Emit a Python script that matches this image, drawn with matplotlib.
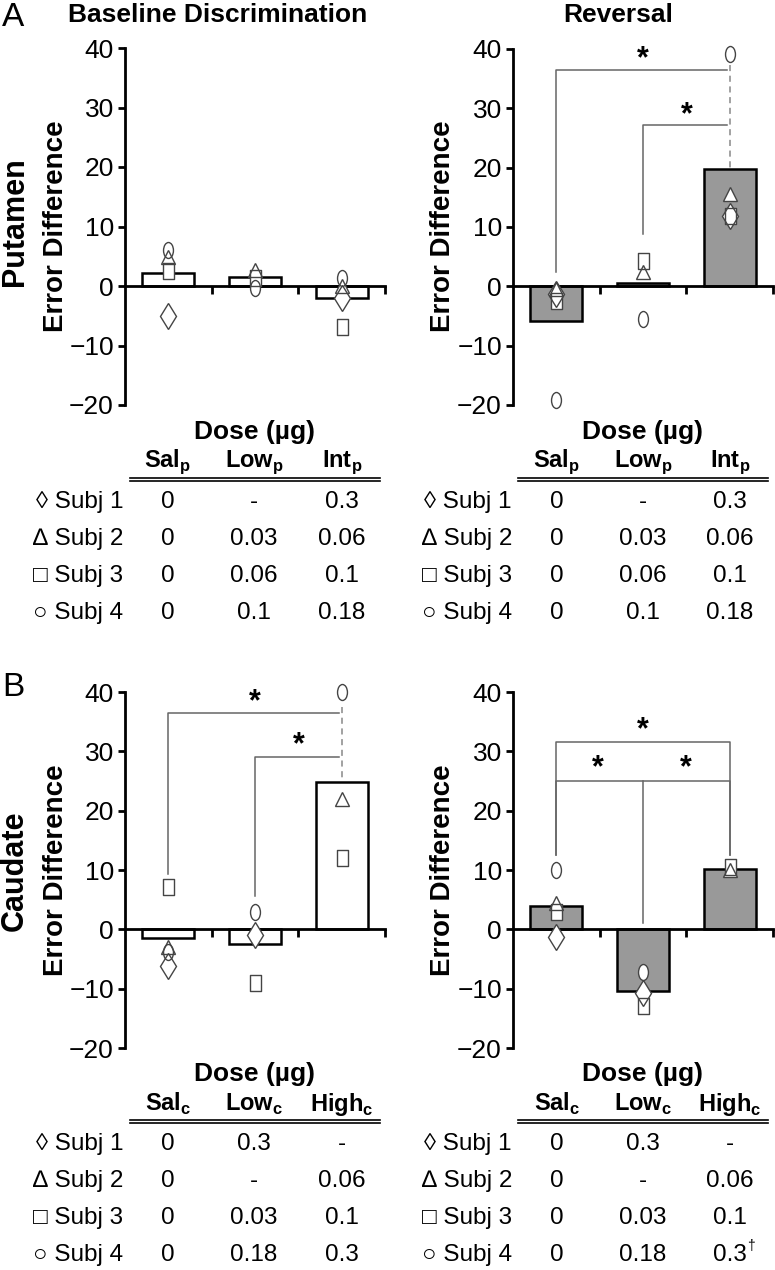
import numpy as np
import matplotlib
matplotlib.use("Agg")
import matplotlib.pyplot as plt
from matplotlib.path import Path
from matplotlib.transforms import Affine2D

plt.rcParams["font.family"] = ["Liberation Sans", "DejaVu Sans"]
plt.rcParams["mathtext.fontset"] = "custom"
plt.rcParams["mathtext.rm"] = "Liberation Sans"
plt.rcParams["mathtext.bf"] = "Liberation Sans:bold"

W, H = 775, 1270

# bar heights (group means), order Sal / Low / Int(High)
put_base_bars = [2.2, 1.5, -2.0]
put_rev_bars = [-5.9, 0.6, 19.8]
cau_base_bars = [-1.4, -2.4, 24.8]
cau_rev_bars = [4.0, -10.4, 10.1]

# individual subjects: rows = Subj 1 (diamond), 2 (triangle), 3 (square), 4 (circle)
nan = np.nan
put_base_pts = [[-5.0, nan, -2.0],
                [4.8, 2.7, 0.0],
                [2.5, 1.3, -6.9],
                [6.0, -0.3, 1.3]]
put_rev_pts = [[-1.3, nan, 11.8],
               [-0.5, 2.5, 15.5],
               [-2.5, 4.2, 11.8],
               [-19.2, -5.5, 39.1]]
cau_base_pts = [[-6.1, -1.0, nan],
                [-3.0, nan, 22.0],
                [7.1, -9.1, 12.1],
                [-3.9, 2.9, 40.0]]
cau_rev_pts = [[-1.3, -10.8, nan],
               [4.4, nan, 10.0],
               [2.9, -13.0, 10.5],
               [10.0, -7.2, nan]]

subj_labels = ["\u25ca Subj 1", "\u2206 Subj 2", "\u25a1 Subj 3", "\u25cb Subj 4"]
put_doses = ["Sal", "Low", "Int"]
cau_doses = ["Sal", "Low", "High"]
put_table = [["0", "-", "0.3"],
             ["0", "0.03", "0.06"],
             ["0", "0.06", "0.1"],
             ["0", "0.1", "0.18"]]
cau_table = [["0", "0.3", "-"],
             ["0", "-", "0.06"],
             ["0", "0.03", "0.1"],
             ["0", "0.18", "0.3"]]

# marker shapes
ellipse = Affine2D().scale(0.62, 1.0).transform_path(Path.unit_circle())
rect = Path([(-0.36, -0.5), (0.36, -0.5), (0.36, 0.5), (-0.36, 0.5), (-0.36, -0.5)],
            [Path.MOVETO, Path.LINETO, Path.LINETO, Path.LINETO, Path.CLOSEPOLY])
markers = [("d", 13), ("^", 10.5), (rect, 11), (ellipse, 11.5)]

GRAY = "#999999"
LINE = "#666666"

fig = plt.figure(figsize=(W / 100, H / 100), dpi=100)


def fx(x):
    return x / W


def fy(y):
    return 1 - y / H


def make_axes(left, top, right, bottom):
    return fig.add_axes([left / W, 1 - bottom / H, (right - left) / W, (bottom - top) / H])


def draw_panel(ax, bars, pts, fill):
    x = np.arange(3)
    ax.bar(x, bars, width=0.6, color=fill, edgecolor="black", linewidth=1.8, zorder=2)
    # white fill first, then all outlines so overlaps stay visible
    for vals, (m, ms) in zip(pts, markers):
        ax.plot(x, vals, ls="none", marker=m, ms=ms, mfc="white", mec="none",
                zorder=3, clip_on=False)
    for vals, (m, ms) in zip(pts, markers):
        ax.plot(x, vals, ls="none", marker=m, ms=ms, mfc="none", mec="#444444", mew=1.0,
                zorder=4, clip_on=False)
    ax.set_xlim(-0.5, 2.5)
    ax.set_ylim(-20, 40)
    ax.set_yticks([-20, -10, 0, 10, 20, 30, 40])
    ax.set_yticklabels(["\u221220", "\u221210", "0", "10", "20", "30", "40"])
    ax.set_xticks([0.5, 1.5, 2.5])
    ax.set_xticklabels([])
    for s in ["top", "right"]:
        ax.spines[s].set_visible(False)
    ax.spines["bottom"].set_position(("data", 0))
    ax.spines["left"].set_linewidth(2.0)
    ax.spines["bottom"].set_linewidth(2.0)
    ax.tick_params(axis="y", direction="out", length=5, width=2.0, labelsize=19, pad=3)
    ax.tick_params(axis="x", direction="out", length=6, width=2.0)
    ax.patch.set_visible(False)


def line(ax, xs, ys, **kw):
    ax.plot(xs, ys, color=LINE, lw=1.1, clip_on=False, zorder=1, **kw)


def star(ax, x, y):
    ax.text(x, y, "*", fontsize=22, fontweight="bold", ha="center", va="center")


def table(x_cols, x_lab, top, doses, sub, vals, line_x0, line_x1):
    fig.text(fx(x_cols[1]), fy(top), "Dose (\u00b5g)", fontsize=19, fontweight="bold",
             ha="center", va="center")
    for xc, d in zip(x_cols, doses):
        fig.text(fx(xc), fy(top + 30), r"$\mathbf{%s}_{\mathbf{%s}}$" % (d, sub), fontsize=17,
                 ha="center", va="center")
    for dy in (45.5, 49):
        fig.add_artist(plt.Line2D([fx(line_x0), fx(line_x1)], [fy(top + dy), fy(top + dy)],
                                  color="black", lw=1.2))
    for i, (lab, row) in enumerate(zip(subj_labels, vals)):
        y = top + 70 + i * 37
        fig.text(fx(x_lab), fy(y), lab, fontsize=17.5, ha="right", va="center")
        for xc, v in zip(x_cols, row):
            fig.text(fx(xc), fy(y), v, fontsize=17.5, ha="center", va="center")


# ---- panel A ----
ax1 = make_axes(125, 48, 385, 405)
draw_panel(ax1, put_base_bars, put_base_pts, "white")

ax2 = make_axes(513, 49, 773, 405)
draw_panel(ax2, put_rev_bars, put_rev_pts, GRAY)
line(ax2, [0, 0, 1.97], [2.4, 36.4, 36.4])
line(ax2, [1, 1, 1.97], [8.8, 27.2, 27.2])
ax2.plot([2, 2], [37.3, 20], color="#888888", lw=1.1, ls=(0, (4, 3)), zorder=1)
star(ax2, 1.0, 38.3)
star(ax2, 1.5, 28.9)

# ---- panel B ----
ax3 = make_axes(125, 692, 385, 1048)
draw_panel(ax3, cau_base_bars, cau_base_pts, "white")
line(ax3, [0, 0, 1.97], [9.4, 36.4, 36.4])
line(ax3, [1, 1, 1.97], [5.7, 29.0, 29.0])
ax3.plot([2, 2], [37.5, 25], color="#888888", lw=1.1, ls=(0, (4, 3)), zorder=1)
star(ax3, 1.0, 38.3)
star(ax3, 1.5, 31.0)

ax4 = make_axes(513, 692, 773, 1048)
draw_panel(ax4, cau_rev_bars, cau_rev_pts, GRAY)
line(ax4, [0, 0, 2, 2], [12.5, 31.5, 31.5, 12.5])
line(ax4, [0, 0, 2, 2], [12.5, 25.0, 25.0, 12.5])
line(ax4, [1, 1], [25.0, 1.0])
star(ax4, 1.0, 33.6)
star(ax4, 0.48, 27.1)
star(ax4, 1.49, 27.1)

# ---- labels ----
fig.text(fx(2), fy(17), "A", fontsize=24, ha="left", va="center")
fig.text(fx(2), fy(688), "B", fontsize=24, ha="left", va="center")
fig.text(fx(218), fy(15), "Baseline Discrimination", fontsize=19, fontweight="bold",
         ha="center", va="center")
fig.text(fx(618), fy(15), "Reversal", fontsize=19, fontweight="bold", ha="center", va="center")
fig.text(fx(15), fy(222), "Putamen", fontsize=22, fontweight="bold", rotation=90,
         ha="center", va="center")
fig.text(fx(15), fy(871), "Caudate", fontsize=22, fontweight="bold", rotation=90,
         ha="center", va="center")
for xl in (56, 443):
    for yc in (226, 870):
        fig.text(fx(xl), fy(yc), "Error Difference", fontsize=20, fontweight="bold",
                 rotation=90, ha="center", va="center")

# ---- dose tables ----
table([168, 254, 342], 123, 432, put_doses, "p", put_table, 130, 380)
table([557, 643, 730], 512, 432, put_doses, "p", put_table, 518, 768)
table([168, 254, 342], 123, 1074, cau_doses, "c", cau_table, 130, 380)
table([557, 643, 730], 512, 1074, cau_doses, "c", cau_table, 518, 768)
# dagger on the excluded high-dose caudate reversal value
fig.text(fx(747), fy(1074 + 70 + 3 * 37 - 9), "\u2020", fontsize=10, ha="left", va="center")

fig.savefig("out.png", dpi=100)
